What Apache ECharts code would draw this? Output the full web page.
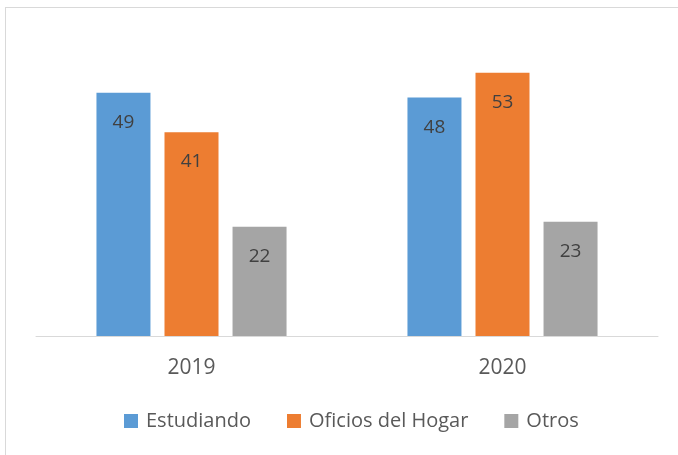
<!DOCTYPE html>
<html>
<head>
<meta charset="utf-8">
<script src="https://cdn.jsdelivr.net/npm/echarts@6/dist/echarts.min.js"></script>
<style>
  html, body { margin: 0; padding: 0; background: #fff; overflow: hidden; }
  #frame { position: absolute; left: 5px; top: 7px; width: 700px; height: 470px; border: 1px solid #d9d9d9; }
  #main { position: absolute; left: 0; top: 0; width: 678px; height: 455px; }
</style>
</head>
<body>
<div id="frame"></div>
<div id="main"></div>
<script>
const categories = ['2019', '2020'];
const estudiando = [49, 48];
const oficiosHogar = [41, 53];
const otros = [22, 23];

const chartDom = document.getElementById('main');
const myChart = echarts.init(chartDom);
const fontFamily = 'Open Sans';

const makeSeries = (name, data, color) => ({
  name: name,
  type: 'bar',
  data: data,
  barWidth: 54,
  barGap: '26%',
  itemStyle: { color: color },
  label: {
    show: true,
    position: 'insideTop',
    distance: 20,
    color: '#404040',
    fontSize: 19,
    fontFamily: fontFamily,
  },
});

const option = {
  backgroundColor: 'transparent',
  animation: false,
  grid: {
    top: 38,
    bottom: 119,
    left: 36,
    right: 20,
  },
  legend: {
    bottom: 19,
    left: 119,
    itemWidth: 14,
    itemHeight: 14,
    itemGap: 36,
    icon: 'rect',
    textStyle: { fontSize: 20, color: '#595959', fontFamily: fontFamily, padding: [0, 0, 0, 3] },
    data: ['Estudiando', 'Oficios del Hogar', 'Otros'],
  },
  xAxis: {
    type: 'category',
    data: categories,
    axisLine: { show: true, lineStyle: { color: '#d9d9d9', width: 1 } },
    axisTick: { show: false },
    axisLabel: { color: '#595959', fontSize: 21, margin: 22, fontFamily: fontFamily },
  },
  yAxis: {
    type: 'value',
    min: 0,
    max: 60,
    show: false,
    splitLine: { show: false },
  },
  series: [
    makeSeries('Estudiando', estudiando, '#5b9bd5'),
    makeSeries('Oficios del Hogar', oficiosHogar, '#ed7d31'),
    makeSeries('Otros', otros, '#a5a5a5'),
  ],
};
myChart.setOption(option);
</script>
</body>
</html>
